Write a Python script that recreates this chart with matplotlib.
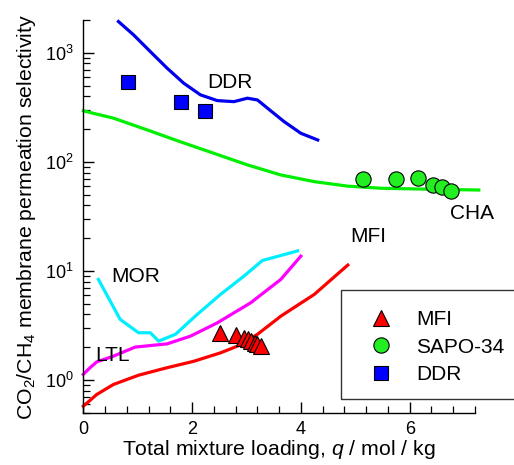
import matplotlib
matplotlib.use("Agg")
import matplotlib.pyplot as plt
import matplotlib.ticker as mticker
from matplotlib.patches import Rectangle
from matplotlib.lines import Line2D

plt.rcParams['font.family'] = ['Liberation Sans', 'DejaVu Sans']
plt.rcParams['mathtext.fontset'] = 'custom'
plt.rcParams['mathtext.rm'] = 'Liberation Sans'
plt.rcParams['mathtext.it'] = 'Liberation Sans:italic'

# ---- data ----
ddr_x = [0.646, 0.923, 1.231, 1.540, 1.846, 2.154, 2.463, 2.769, 3.016, 3.201, 3.386, 3.692, 4.0, 4.309]
ddr_y = [1936, 1463, 1028, 724, 527, 412, 365, 357, 384, 370, 311, 234, 183, 159]

cha_x = [0.0, 0.554, 1.17, 1.785, 2.40, 3.016, 3.63, 4.246, 4.86, 5.48, 6.16, 7.27]
cha_y = [294, 252, 197, 153, 120, 94, 76, 66, 60, 57.4, 56.5, 55.3]

mor_x = [0.277, 0.677, 1.015, 1.231, 1.385, 1.693, 2.093, 2.523, 2.954, 3.293, 3.939]
mor_y = [8.39, 3.61, 2.72, 2.72, 2.28, 2.63, 4.0, 6.11, 9.0, 12.5, 15.3]

ltl_x = [0.0, 0.124, 0.247, 0.554, 0.954, 1.539, 1.969, 2.462, 3.077, 3.631, 3.999]
ltl_y = [1.13, 1.30, 1.47, 1.66, 2.01, 2.15, 2.53, 3.35, 5.12, 8.39, 13.7]

mfi_x = [0.0, 0.247, 0.554, 1.015, 1.539, 2.031, 2.523, 2.832, 3.201, 3.631, 4.246, 4.862]
mfi_y = [0.577, 0.739, 0.913, 1.11, 1.30, 1.49, 1.78, 2.05, 2.63, 3.86, 6.11, 11.35]

mfi_exp_x = [2.51, 2.80, 2.95, 3.02, 3.09, 3.15, 3.20, 3.26]
mfi_exp_y = [2.72, 2.57, 2.44, 2.36, 2.28, 2.20, 2.13, 2.05]

sapo_x = [5.14, 5.75, 6.16, 6.43, 6.6, 6.75]
sapo_y = [70, 70, 71, 61, 59, 54]

ddr_exp_x = [0.82, 1.80, 2.23]
ddr_exp_y = [545, 353, 294]

labels = [("DDR", 2.70, 536), ("MFI", 5.24, 20.9), ("CHA", 7.14, 33.4),
          ("MOR", 0.954, 8.9), ("LTL", 0.54, 1.70)]
legend_names = ["MFI", "SAPO-34", "DDR"]

# ---- figure ----
fig = plt.figure(figsize=(5.14, 4.65), dpi=100)
ax = fig.add_axes([83.3/514, 1-413/465, (475-83.3)/514, 393/465])

lw = 2.3
ax.plot(ddr_x, ddr_y, color='#0000ee', lw=lw, clip_on=False, zorder=2)
ax.plot(cha_x, cha_y, color='#00ee00', lw=lw, clip_on=False, zorder=2)
ax.plot(mor_x, mor_y, color='#00eeff', lw=lw, clip_on=False, zorder=2)
ax.plot(ltl_x, ltl_y, color='#ff00ff', lw=lw, clip_on=False, zorder=2)
ax.plot(mfi_x, mfi_y, color='#ff0000', lw=lw, clip_on=False, zorder=2)

ax.plot(mfi_exp_x, mfi_exp_y, ls='none', marker='^', ms=11, mfc='#ff0000',
        mec='black', mew=0.8, zorder=3)
ax.plot(sapo_x, sapo_y, ls='none', marker='o', ms=11, mfc='#22ee22',
        mec='black', mew=0.8, zorder=3)
ax.plot(ddr_exp_x, ddr_exp_y, ls='none', marker='s', ms=10, mfc='#0000ff',
        mec='black', mew=0.8, zorder=3)

for txt, x, y in labels:
    ax.text(x, y, txt, ha='center', va='center', fontsize=15)

ax.set_yscale('log')
ax.set_ylim(0.5, 2000)
ax.set_xlim(0, 7.2)
ax.xaxis.set_major_locator(mticker.MultipleLocator(2))
ax.xaxis.set_minor_locator(mticker.MultipleLocator(0.4))
ax.yaxis.set_major_locator(mticker.LogLocator(base=10, numticks=10))
ax.yaxis.set_minor_locator(mticker.LogLocator(base=10, subs=range(2, 10), numticks=20))
ax.yaxis.set_minor_formatter(mticker.NullFormatter())

for s in ['top', 'right']:
    ax.spines[s].set_visible(False)
for s in ['left', 'bottom']:
    ax.spines[s].set_linewidth(1.0)

ax.tick_params(which='both', direction='in', labelsize=13)
ax.tick_params(which='major', length=8, width=1.0)
ax.tick_params(which='minor', length=5, width=0.9)
ax.tick_params(axis='x', which='major', pad=6)
ax.tick_params(axis='y', which='major', pad=7)

ax.set_xlabel("Total mixture loading, $\\mathit{q}$ / mol / kg", fontsize=15.3, labelpad=0)
ax.set_ylabel("CO$_2$/CH$_4$ membrane permeation selectivity", fontsize=15.3, labelpad=5)

# legend box (extends past the right edge as in the reference)
fig.patches.append(Rectangle((341/514, 1-399/465), (530-341)/514, (399-290)/465,
                             transform=fig.transFigure, fill=True, fc='white',
                             ec='#333333', lw=1.0, zorder=5))
handles = [
    Line2D([], [], ls='none', marker='^', ms=11, mfc='#ff0000', mec='black', mew=0.8),
    Line2D([], [], ls='none', marker='o', ms=11, mfc='#22ee22', mec='black', mew=0.8),
    Line2D([], [], ls='none', marker='s', ms=10, mfc='#0000ff', mec='black', mew=0.8),
]
leg = fig.legend(handles, legend_names, loc='upper left',
                 bbox_to_anchor=(358.5/514, 1-300/465), frameon=False,
                 fontsize=15, handletextpad=1.08, labelspacing=0.4,
                 handlelength=1.2, borderpad=0)
leg.set_zorder(6)

fig.savefig("out.png", dpi=100)
